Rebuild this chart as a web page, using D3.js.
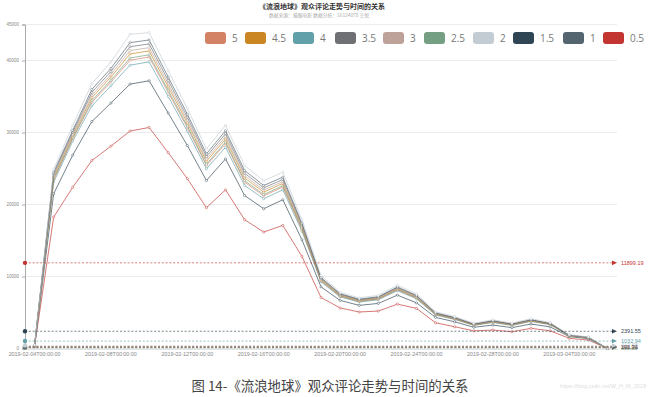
<!DOCTYPE html>
<html><head><meta charset="utf-8">
<script src="https://cdn.jsdelivr.net/npm/d3@7"></script>
<style>html,body{margin:0;padding:0;background:#fff;} svg{display:block;font-family:"Liberation Sans",Arial,sans-serif;}</style>
</head><body><svg id="c" width="650" height="397"></svg>
<script>
const dates = ["2019-02-04T00:00:00","2019-02-05T00:00:00","2019-02-06T00:00:00","2019-02-07T00:00:00","2019-02-08T00:00:00","2019-02-09T00:00:00","2019-02-10T00:00:00","2019-02-11T00:00:00","2019-02-12T00:00:00","2019-02-13T00:00:00","2019-02-14T00:00:00","2019-02-15T00:00:00","2019-02-16T00:00:00","2019-02-17T00:00:00","2019-02-18T00:00:00","2019-02-19T00:00:00","2019-02-20T00:00:00","2019-02-21T00:00:00","2019-02-22T00:00:00","2019-02-23T00:00:00","2019-02-24T00:00:00","2019-02-25T00:00:00","2019-02-26T00:00:00","2019-02-27T00:00:00","2019-02-28T00:00:00","2019-03-01T00:00:00","2019-03-02T00:00:00","2019-03-03T00:00:00","2019-03-04T00:00:00","2019-03-05T00:00:00","2019-03-06T00:00:00"];
const yTicks = [0, 10000, 20000, 30000, 40000, 45000];
const legendOrder = ["5","4.5","4","3.5","3","2.5","2","1.5","1","0.5"];
const stackOrder = ["0.5","1.5","4","5","2.5","4.5","3","3.5","1","2"];
const seriesColors = {"5":"#d48265","4.5":"#ca8622","4":"#61a0a8","3.5":"#6e7074","3":"#bda29a","2.5":"#749f83","2":"#c4ccd3","1.5":"#2f4554","1":"#546570","0.5":"#c23531"};

const v05 = [250,18250,22400,26100,28100,30200,30700,27200,23600,19550,22040,17890,16170,17100,12800,7090,5630,5070,5200,6160,5570,3570,3020,2450,2560,2330,2800,2460,1410,1180,10];
const v15 = [80,3240,4460,5420,5990,6520,6480,5500,4600,3780,4290,3360,3240,3560,2310,1470,1050,920,1060,1250,770,750,690,500,690,570,600,540,240,200,5];
const v4  = [40,1610,1940,2160,2400,2630,2630,2300,1950,1620,1610,1390,1390,1380,1200,700,480,460,500,620,560,330,320,260,360,300,360,300,110,90,5];
const v5  = [15,304,330,508,530,689,669,594,528,458,508,458,405,385,242,132,99,88,95,114,106,66,62,44,57,48,55,44,22,18,1];
const v25 = [7,138,150,231,241,313,304,270,240,208,231,208,184,175,110,60,45,40,43,52,48,30,28,20,26,22,25,20,10,8,1];
const v45 = [13,248,270,416,434,563,547,486,432,374,416,374,331,315,198,108,81,72,77,94,86,54,50,36,47,40,45,36,18,14,1];
const v3  = [10,207,225,347,362,470,456,405,360,312,347,312,276,263,165,90,68,60,65,78,72,45,42,30,39,33,38,30,15,12,1];
const v35 = [12,235,255,393,410,532,517,459,408,354,393,354,313,298,187,102,77,68,73,88,82,51,48,34,44,37,43,34,17,14,1];
const v1  = [13,248,270,415,433,563,547,486,432,374,415,374,331,314,198,108,80,72,77,94,86,54,50,36,47,40,44,36,18,14,0];
const v2  = [30,400,700,800,900,1160,1020,900,800,700,750,680,660,700,500,280,190,180,190,240,200,140,130,110,120,110,130,110,60,50,5];
// average mark lines (stack order)
const markAverages = [11899.19, 2391.55, 1032.94, 246.81, 112.35, 201.94, 168.52, 191.26, 201.71, 417.58];

const valuesByName = {"0.5":v05,"1.5":v15,"4":v4,"5":v5,"2.5":v25,"4.5":v45,"3":v3,"3.5":v35,"1":v1,"2":v2};
const table = dates.map((d, i) => {
  const row = {date: d};
  stackOrder.forEach(k => row[k] = valuesByName[k][i]);
  return row;
});

const svg = d3.select("#c");
const gLeft = 25, gRight = 617, gTop = 24.5, gBottom = 348.5;

const x = d3.scaleBand().domain(dates).range([gLeft, gRight]).paddingInner(0).paddingOuter(0);
const bw = x.bandwidth();
const y = d3.scaleLinear().domain([0, 45000]).range([gBottom, gTop]);

// title
svg.append("text").attr("x", 322).attr("y", 9).attr("text-anchor", "middle")
  .attr("font-size", 7).attr("font-weight", "bold").attr("fill", "#333")
  .attr("font-family", "'Noto Sans CJK SC',sans-serif")
  .text("《流浪地球》观众评论走势与时间的关系");
svg.append("text").attr("x", 319).attr("y", 17).attr("text-anchor", "middle")
  .attr("font-size", 4.8).attr("fill", "#aaa")
  .attr("font-family", "'Noto Sans CJK SC',sans-serif")
  .text("数据来源：猫眼电影 数据分析：16124078 王悦");

// grid
const grid = svg.append("g");
yTicks.filter(t => t > 0).forEach(t => {
  grid.append("line").attr("x1", gLeft).attr("x2", gRight).attr("y1", y(t)).attr("y2", y(t))
    .attr("stroke", "#ececec").attr("stroke-width", 1);
});

// y axis
const yAxis = svg.append("g").attr("transform", `translate(${gLeft},0)`)
  .call(d3.axisLeft(y).tickValues(yTicks).tickSize(3).tickPadding(3).tickFormat(d3.format("d")));
yAxis.select(".domain").attr("stroke", "#aaa");
yAxis.selectAll(".tick line").attr("stroke", "#aaa");
yAxis.selectAll("text").attr("font-size", 4.5).attr("fill", "#888").attr("font-family", "'Liberation Sans',Arial,sans-serif");

// x axis
const xTickVals = dates.filter((d, i) => i % 4 === 0);
const xAxis = svg.append("g").attr("transform", `translate(0,${gBottom})`)
  .call(d3.axisBottom(x).tickValues(xTickVals).tickSize(0).tickPadding(4));
xAxis.select(".domain").attr("stroke", "#ccc");
xAxis.selectAll("text").attr("font-size", 5.4).attr("fill", "#888").attr("font-family", "'Liberation Sans',Arial,sans-serif");

// stack
const stacked = d3.stack().keys(stackOrder)(table);
const px = i => x(dates[i]) + bw / 2;
const line = d3.line().x((d, i) => px(i)).y(d => y(d[1]));

const lines = svg.append("g");
stacked.forEach((s, si) => {
  const c = seriesColors[s.key];
  lines.append("path").attr("d", line(s)).attr("fill", "none").attr("stroke", c)
    .attr("stroke-width", 0.9).attr("stroke-opacity", 0.75);
  lines.selectAll(null).data(s).enter().append("circle")
    .attr("cx", (d, i) => px(i)).attr("cy", d => y(d[1])).attr("r", 1.1)
    .attr("fill", "#fff").attr("stroke", c).attr("stroke-width", 0.6).attr("stroke-opacity", 0.8);
});

// mark lines (average)
const marks = svg.append("g");
stackOrder.forEach((k, si) => {
  const c = seriesColors[k];
  const yy = y(markAverages[si]);
  marks.append("line").attr("x1", gLeft).attr("x2", gRight - 4).attr("y1", yy).attr("y2", yy)
    .attr("stroke", c).attr("stroke-width", 0.8).attr("stroke-dasharray", "2,1.8").attr("opacity", 0.8);
  marks.append("circle").attr("cx", gLeft).attr("cy", yy).attr("r", 2.2).attr("fill", c);
  marks.append("path").attr("d", `M${gRight - 5},${yy - 2.3}L${gRight},${yy}L${gRight - 5},${yy + 2.3}Z`).attr("fill", c);
  marks.append("text").attr("x", gRight + 4).attr("y", yy).attr("dy", "0.35em")
    .attr("font-size", 5.5).attr("fill", c).text(d3.format(".2f")(markAverages[si]));
});

// legend
const legendX = [205, 245, 293, 335, 383, 424, 473, 513, 563, 603];
const lg = svg.append("g").attr("font-family", "'Open Sans',sans-serif");
legendOrder.forEach((k, i) => {
  lg.append("rect").attr("x", legendX[i]).attr("y", 32).attr("width", 21).attr("height", 12).attr("rx", 3)
    .attr("fill", seriesColors[k]);
  lg.append("text").attr("x", legendX[i] + 27).attr("y", 38).attr("dy", "0.35em")
    .attr("font-size", 10).attr("fill", "#777").text(k);
});

// caption
svg.append("text").attr("x", 330).attr("y", 386).attr("text-anchor", "middle").attr("dy", "0.35em")
  .attr("font-size", 13.4).attr("fill", "#444").attr("font-family", "'Noto Sans CJK SC',sans-serif")
  .text("图 14-《流浪地球》观众评论走势与时间的关系");
svg.append("text").attr("x", 646).attr("y", 386).attr("text-anchor", "end").attr("dy", "0.35em")
  .attr("font-size", 5.5).attr("fill", "#ddd")
  .text("https://blog.csdn.net/W_H_M_2018");
</script></body></html>
